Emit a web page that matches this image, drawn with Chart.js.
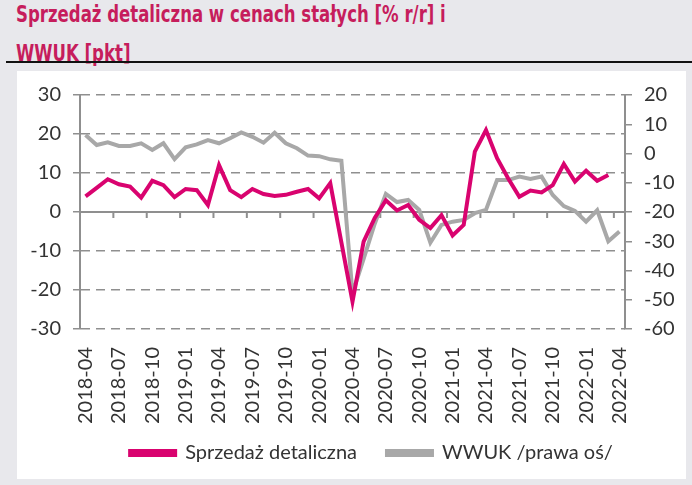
<!DOCTYPE html>
<html>
<head>
<meta charset="utf-8">
<script src="https://cdn.jsdelivr.net/npm/chart.js@4"></script>
<style>
  html,body{margin:0;padding:0;}
  body{width:692px;height:485px;background:#e8e8ec;position:relative;overflow:hidden;font-family:'DejaVu Sans Condensed',sans-serif;}
  .title{position:absolute;left:16px;top:-5px;color:#c61d5c;font-size:23px;font-weight:bold;line-height:39px;white-space:nowrap;transform:scaleX(0.8);transform-origin:0 0;}
  .rule{position:absolute;left:6px;right:0;top:61px;height:2px;background:#111;}
  .box{position:absolute;left:17px;top:71px;width:669px;height:408px;background:#fff;}
  canvas{display:block;}
</style>
</head>
<body>
<div class="title">Sprzedaż detaliczna w cenach stałych [% r/r] i<br>WWUK [pkt]</div>
<div class="rule"></div>
<div class="box"><canvas id="c" width="669" height="408"></canvas></div>
<script>
// miesiace 2018-04 .. 2022-04
const months = [];
for (let y = 2018, m = 4; y < 2022 || (y === 2022 && m <= 4); m++) {
  if (m > 12) { m = 1; y++; }
  months.push(y + '-' + String(m).padStart(2, '0'));
}

// sprzedaz detaliczna w cenach stalych, % r/r (do 2022-03)
const sprzedaz = [4.0, 6.2, 8.4, 7.1, 6.5, 3.7, 8.0, 6.9, 3.8, 5.9, 5.6, 1.8,
  12.0, 5.6, 3.8, 5.9, 4.6, 4.1, 4.4, 5.2, 5.9, 3.5, 7.4, -7.8,
  -23.0, -7.6, -1.5, 3.0, 0.4, 1.8, -2.0, -4.1, -0.8, -6.0, -3.3, 15.5,
  21.0, 13.8, 8.6, 3.9, 5.5, 5.0, 6.9, 12.3, 7.8, 10.6, 8.0, 9.5, null];

// WWUK, pkt (prawa os)
const wwuk = [6.3, 2.9, 3.8, 2.6, 2.6, 3.5, 1.2, 3.5, -1.9, 2.1, 3.1, 4.6,
  3.5, 5.2, 7.2, 5.7, 3.7, 7.1, 3.5, 1.8, -0.7, -0.9, -2.0, -2.5,
  -47.8, -36.0, -24.0, -13.8, -16.6, -15.9, -19.3, -30.5, -24.4, -23.3, -22.7, -20.4,
  -19.3, -9.1, -9.1, -7.9, -8.7, -7.9, -14.2, -18.0, -19.6, -23.3, -19.4, -30.0, -26.7];

const PINK = '#d9036f';
const GREY = '#a8a8a8';
const AXIS = '#8f8f8f';
const FONT = {family: 'Lato', size: 20};

// linia zera + znaczniki co 3 miesiace
const zeroLine = {
  id: 'zeroLine',
  afterLayout(chart){
    // legenda w oryginale lekko przesunieta w prawo i wyzej
    const lg = chart.legend;
    lg.left += 20; lg.right += 20;
    lg.top -= 20; lg.bottom -= 20;
  },
  beforeDatasetsDraw(chart){
    const {ctx, chartArea, scales} = chart;
    const y0 = scales.y.getPixelForValue(0);
    ctx.save();
    ctx.strokeStyle = AXIS;
    ctx.lineWidth = 2;
    ctx.beginPath();
    ctx.moveTo(chartArea.left, y0);
    ctx.lineTo(chartArea.right, y0);
    for (let i = 3; i < months.length; i += 3) {
      const x = (scales.x.getPixelForValue(i - 1) + scales.x.getPixelForValue(i)) / 2;
      ctx.moveTo(x, y0);
      ctx.lineTo(x, y0 + 6);
    }
    ctx.stroke();
    ctx.restore();
  }
};

new Chart(document.getElementById('c'), {
  type: 'line',
  data: {
    labels: months,
    datasets: [
      {label: 'Sprzedaż detaliczna', data: sprzedaz, yAxisID: 'y',
       borderColor: PINK, backgroundColor: PINK, borderWidth: 4, pointRadius: 0, tension: 0},
      {label: 'WWUK /prawa oś/', data: wwuk, yAxisID: 'y1',
       borderColor: GREY, backgroundColor: GREY, borderWidth: 4, pointRadius: 0, tension: 0}
    ]
  },
  plugins: [zeroLine],
  options: {
    responsive: false, animation: false,
    layout: {padding: {left: 0, right: 0, top: 24, bottom: -14}},
    plugins: {
      legend: {
        position: 'bottom',
        labels: {color: '#333', font: FONT, boxWidth: 45, boxHeight: 4, padding: 30}
      },
      tooltip: {enabled: false}
    },
    scales: {
      x: {
        offset: true,
        grid: {display: false},
        border: {display: false},
        afterFit: s => { s.height = 104; },
        ticks: {color: '#333', font: FONT, autoSkip: false, minRotation: 90, maxRotation: 90, padding: 10,
          callback: (v, i) => i % 3 === 0 ? months[i] : ''}
      },
      y: {
        position: 'left', min: -30, max: 30,
        afterFit: s => { s.width = 63; },
        ticks: {stepSize: 10, color: '#333', font: FONT, padding: 12},
        grid: {color: c => c.tick && c.tick.value === 0 ? 'rgba(0,0,0,0)' : AXIS, lineWidth: 1.5,
          tickLength: 7, tickColor: AXIS, tickBorderDash: []},
        border: {color: AXIS, width: 2, dash: [9, 6]}
      },
      y1: {
        position: 'right', min: -60, max: 20,
        afterFit: s => { s.width = 61; },
        ticks: {stepSize: 10, color: '#333', font: FONT, padding: 12},
        grid: {drawOnChartArea: false, tickLength: 7, color: AXIS, lineWidth: 1.5},
        border: {color: AXIS, width: 2}
      }
    }
  }
});
</script>
</body>
</html>
